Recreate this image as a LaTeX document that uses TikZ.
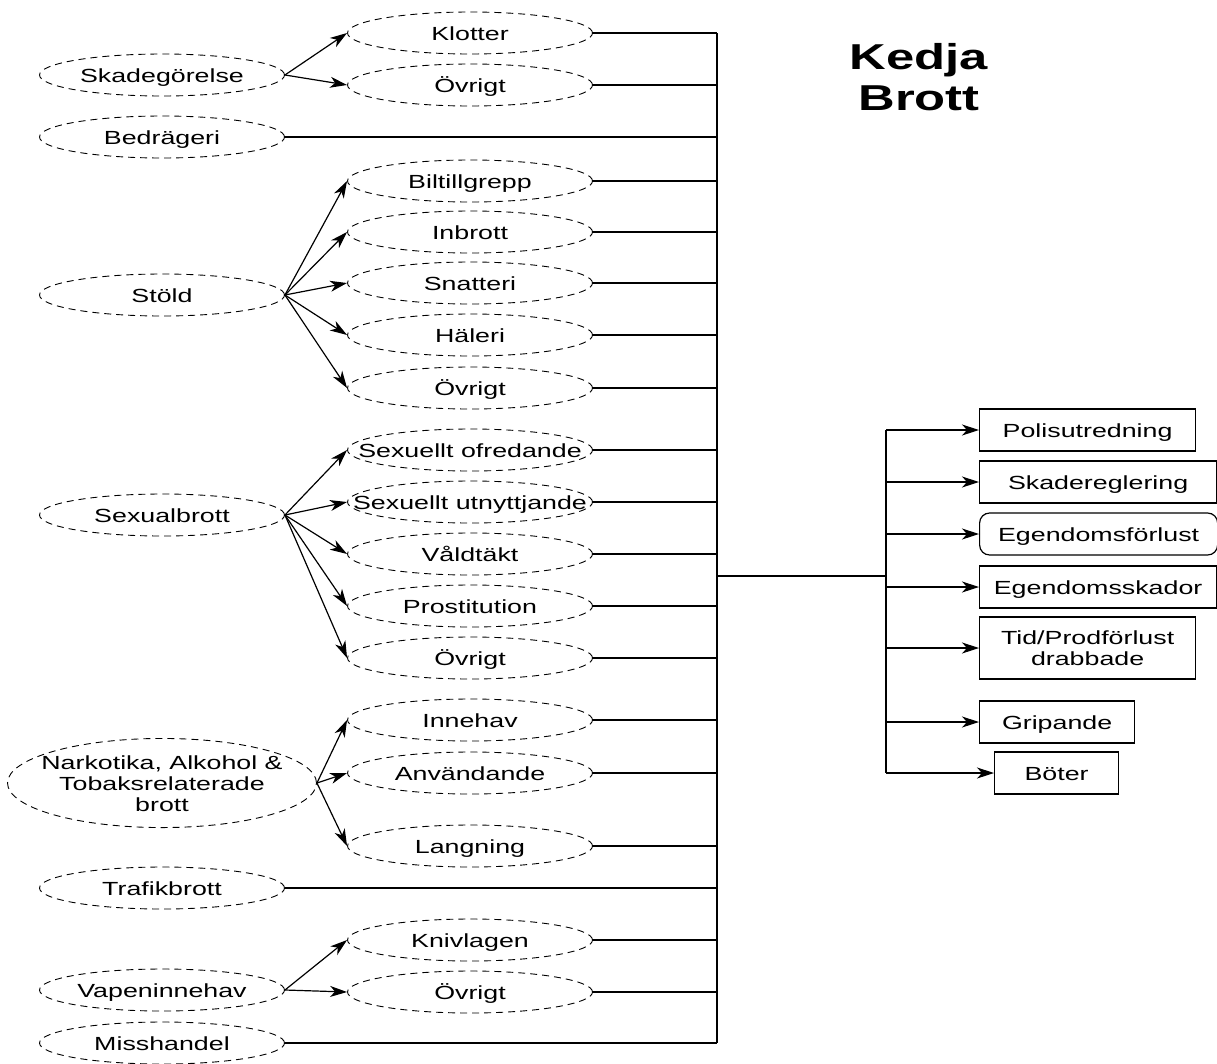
\documentclass[tikz,border=0pt]{standalone}
\usepackage{fontspec}
\setmainfont{Liberation Sans}[FakeStretch=1.41]
\usetikzlibrary{arrows.meta,shapes.geometric}
\newcommand{\nw}[1]{\makebox[0pt]{\raisebox{-3pt}[\height][\depth]{\begin{tabular}{@{}c@{}}#1\end{tabular}}}}
\tikzset{
  crime/.style={draw, ellipse, dash pattern=on 7pt off 5pt, line width=0.9pt,
    minimum width=245pt, minimum height=42pt, inner sep=0pt},
  outcome/.style={draw, rectangle, line width=1.2pt, minimum height=42pt,
    inner sep=0pt, anchor=west},
  arr/.style={-{Stealth[length=17pt,width=11pt,inset=5pt]}, line width=1.2pt},
}

\begin{document}
\begin{tikzpicture}[x=1pt,y=-1pt,line width=1.2pt,font=\fontsize{19}{21}\selectfont]
\useasboundingbox (0,0) rectangle (1217,1063);

% main crime groups
\node[crime] (skad) at (162,75) {\nw{Skadegörelse}};
\node[crime] (bedr) at (162,137) {\nw{Bedrägeri}};
\node[crime] (stold) at (162,295) {\nw{Stöld}};
\node[crime] (sexual) at (162,515) {\nw{Sexualbrott}};
\node[crime, minimum width=309pt, minimum height=84pt] (nark) at (162,783)
  {\nw{Narkotika, Alkohol \&\\Tobaksrelaterade\\brott}};
\node[crime] (trafik) at (162,888) {\nw{Trafikbrott}};
\node[crime] (vapen) at (162,990) {\nw{Vapeninnehav}};
\node[crime] (misshandel) at (162,1043) {\nw{Misshandel}};

% sub types
\node[crime] (klotter) at (470,33) {\nw{Klotter}};
\node[crime] (ovrigtA) at (470,85) {\nw{Övrigt}};
\node[crime] (bil) at (470,181) {\nw{Biltillgrepp}};
\node[crime] (inbrott) at (470,232) {\nw{Inbrott}};
\node[crime] (snatt) at (470,283) {\nw{Snatteri}};
\node[crime] (haleri) at (470,335) {\nw{Häleri}};
\node[crime] (ovrigtB) at (470,388) {\nw{Övrigt}};
\node[crime] (ofred) at (470,450) {\nw{Sexuellt ofredande}};
\node[crime] (utnytt) at (470,502) {\nw{Sexuellt utnyttjande}};
\node[crime] (valdt) at (470,554) {\nw{Våldtäkt}};
\node[crime] (prost) at (470,606) {\nw{Prostitution}};
\node[crime] (ovrigtC) at (470,658) {\nw{Övrigt}};
\node[crime] (innehav) at (470,720) {\nw{Innehav}};
\node[crime] (anvand) at (470,773) {\nw{Användande}};
\node[crime] (lang) at (470,846) {\nw{Langning}};
\node[crime] (kniv) at (470,940) {\nw{Knivlagen}};
\node[crime] (ovrigtD) at (470,992) {\nw{Övrigt}};

% arrows group -> sub type
\draw[arr] (skad.east) -- (klotter.west);
\draw[arr] (skad.east) -- (ovrigtA.west);
\foreach \n in {bil,inbrott,snatt,haleri,ovrigtB}
  \draw[arr] (stold.east) -- (\n.west);
\foreach \n in {ofred,utnytt,valdt,prost,ovrigtC}
  \draw[arr] (sexual.east) -- (\n.west);
\foreach \n in {innehav,anvand,lang}
  \draw[arr] (nark.east) -- (\n.west);
\draw[arr] (vapen.east) -- (kniv.west);
\draw[arr] (vapen.east) -- (ovrigtD.west);

% collecting line
\coordinate (bustop) at (717,33);
\coordinate (busbot) at (717,1043);
\draw (bustop) -- (busbot);
\draw (klotter.east) -- (bustop);
\draw (misshandel.east) -- (busbot);
\foreach \n in {ovrigtA,bedr,bil,inbrott,snatt,haleri,ovrigtB,ofred,utnytt,valdt,
  prost,ovrigtC,innehav,anvand,lang,trafik,kniv,ovrigtD}
  \draw (\n.east) -- (\n.east -| bustop);

% consequences
\node[outcome, minimum width=216pt] (polis) at (979,430) {\nw{Polisutredning}};
\node[outcome, minimum width=237pt] (skadereg) at (979,482) {\nw{Skadereglering}};
\node[outcome, minimum width=238pt, rounded corners=10pt] (egforl) at (979,534) {\nw{Egendomsförlust}};
\node[outcome, minimum width=237pt] (egskad) at (979,587) {\nw{Egendomsskador}};
\node[outcome, minimum width=216pt, minimum height=62pt] (tidprod) at (979,648)
  {\nw{Tid/Prodförlust\\drabbade}};
\node[outcome, minimum width=155pt] (grip) at (979,722) {\nw{Gripande}};
\node[outcome, minimum width=124pt] (boter) at (994,773) {\nw{Böter}};

\coordinate (hub) at (886,576);
\draw (hub -| bustop) -- (hub);
\draw (polis.west -| hub) -- (boter.west -| hub);
\foreach \n in {polis,skadereg,egforl,egskad,tidprod,grip,boter}
  \draw[arr] (\n.west -| hub) -- (\n.west);

\node[font=\bfseries\fontsize{36}{41}\selectfont, align=center] (title) at (919,77) {Kedja\\Brott};
\end{tikzpicture}
\end{document}
